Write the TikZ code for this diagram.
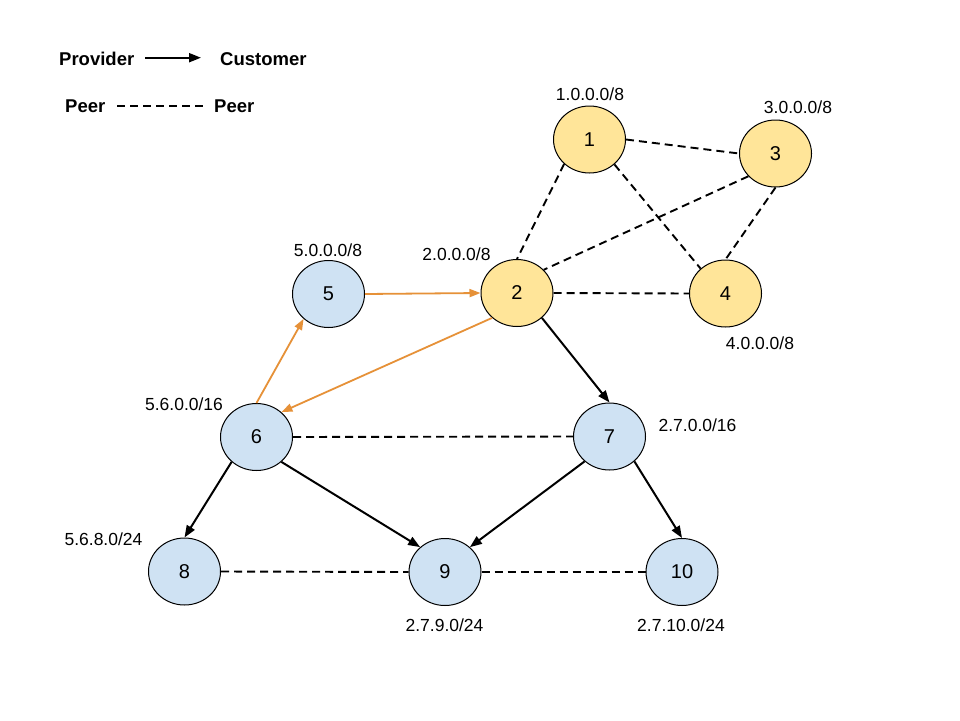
\documentclass[tikz,border=0pt]{standalone}
\usepackage{fontspec}
\setmainfont{Liberation Sans}
\usetikzlibrary{arrows.meta,shapes.geometric}
\definecolor{yfill}{HTML}{FFE599}
\definecolor{bfill}{HTML}{CFE2F3}
\definecolor{orng}{HTML}{E69138}
\tikzset{
  asnode/.style={ellipse, draw=black, line width=1pt, minimum width=72pt, minimum height=67pt, inner sep=0pt, font=\fontsize{20}{24}\selectfont},
  ynode/.style={asnode, fill=yfill},
  bnode/.style={asnode, fill=bfill},
  pfx/.style={anchor=base, inner sep=0pt, font=\fontsize{17.5}{21}\selectfont},
  legtext/.style={anchor=base west, inner sep=0pt, font=\fontsize{18.5}{22}\selectfont\bfseries},
  peerline/.style={line width=1.9pt, dash pattern=on 8pt off 5pt},
  custarrow/.style={line width=2pt, -{Triangle[length=12pt,width=9pt]}},
  orarrow/.style={line width=1.8pt, draw=orng, -{Triangle[length=11pt,width=8pt]}},
}
\begin{document}
\begin{tikzpicture}[x=1pt,y=-1pt]
\useasboundingbox[fill=white] (0,0) rectangle (960,720);
% legend
\node[legtext] (prov) at (59,65) {Provider};
\node[legtext] (cust) at (220,65) {Customer};
\node[legtext] (peer1) at (65,112.5) {Peer};
\node[legtext] (peer2) at (214,112.5) {Peer};
\coordinate (la1) at (145,57.7);
\coordinate (la2) at (201,57.7);
\coordinate (lp1) at (117,106);
\coordinate (lp2) at (203,106);
\draw[custarrow] (la1) -- (la2);
\draw[peerline] (lp1) -- (lp2);
% nodes
\node[ynode] (n1) at (589.5,139.5) {1};
\node[ynode] (n3) at (775.5,153.5) {3};
\node[ynode] (n2) at (517,293) {2};
\node[ynode] (n4) at (725.5,293.5) {4};
\node[bnode] (n5) at (328.5,294) {5};
\node[bnode] (n6) at (256.5,437) {6};
\node[bnode] (n7) at (609.5,436.5) {7};
\node[bnode] (n8) at (184.5,571.5) {8};
\node[bnode] (n9) at (445,572) {9};
\node[bnode] (n10) at (682,572) {10};
% prefixes
\node[pfx] (p1) at (590,100.5) {1.0.0.0/8};
\node[pfx] (p3) at (798,113) {3.0.0.0/8};
\node[pfx] (p5) at (328,256) {5.0.0.0/8};
\node[pfx] (p2) at (456.5,260.7) {2.0.0.0/8};
\node[pfx] (p4) at (760,349) {4.0.0.0/8};
\node[pfx] (p6) at (184,410) {5.6.0.0/16};
\node[pfx] (p7) at (697.5,431.7) {2.7.0.0/16};
\node[pfx] (p8) at (103.5,545) {5.6.8.0/24};
\node[pfx] (p9) at (444.5,631) {2.7.9.0/24};
\node[pfx] (p10) at (681,631) {2.7.10.0/24};
% peer links
\draw[peerline] (n1.east) -- (n3.west);
\draw[peerline] (n1.224) -- (n2.north);
\draw[peerline] (n1.-45) -- (n4.135);
\draw[peerline] (n3.220) -- (n2.41);
\draw[peerline] (n3.south) -- (n4.north);
\draw[peerline] (n2.east) -- (n4.west);
\draw[peerline] (n6.east) -- (n7.west);
\draw[peerline] (n8.east) -- (n9.west);
\draw[peerline] (n9.east) -- (n10.west);
% provider -> customer
\draw[custarrow] (n2.-45) -- (n7.north);
\draw[custarrow] (n6.225) -- (n8.north);
\draw[custarrow] (n6.-45) -- (n9.135);
\draw[custarrow] (n7.225) -- (n9.45);
\draw[custarrow] (n7.-45) -- (n10.north);
% orange path
\draw[orarrow] (n5.east) -- (n2.west);
\draw[orarrow] (n2.225) -- (n6.45);
\draw[orarrow] (n6.north) -- (n5.225);
\end{tikzpicture}
\end{document}
